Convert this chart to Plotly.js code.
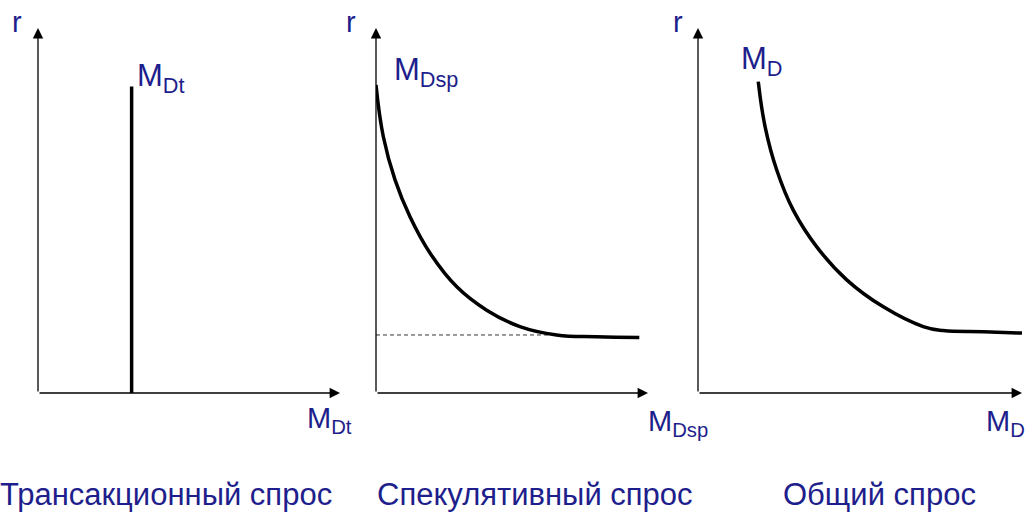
<!DOCTYPE html>
<html>
<head>
<meta charset="utf-8">
<script src="https://cdn.plot.ly/plotly-3.0.1.min.js"></script>
<style>html,body{margin:0;padding:0;background:#fff;}#chart{width:1027px;height:513px;}</style>
</head>
<body>
<div id="chart"></div>
<script>
// Panel titles
const panelTitles = ["Трансакционный спрос", "Спекулятивный спрос", "Общий спрос"];
const curveLabels = ["M<sub>Dt</sub>", "M<sub>Dsp</sub>", "M<sub>D</sub>"];
const axisLabelY = "r";

// Transactional demand: vertical line (independent of r)
const transX = [31, 31];
const transY = [0, 84];

// Speculative demand curve
const specX = [0, 2.7, 7.0, 12.5, 19.9, 29.7, 40.7, 52.9, 66.4, 81.1, 96.8];
const specY = [84.4, 70.2, 58.4, 48.3, 38.3, 29.1, 22.7, 18.2, 15.9, 15.4, 15.2];

// Liquidity trap floor (dashed)
const floorX = [0, 66.4];
const floorY = [15.9, 15.9];

// Total demand curve
const totX = [18.6, 20.7, 24.3, 29.4, 36.6, 45.9, 57.2, 69.5, 75.7, 88.1, 100.2];
const totY = [85.3, 73.0, 61.1, 50.1, 40.1, 31.0, 23.6, 18.2, 17.1, 16.8, 16.4];

const W = 1027, H = 513;
const px = v => v / W;
const py = v => 1 - v / H;
const blue = "#1e1e8c";
const font = "Arial, 'Liberation Sans', sans-serif";

const traces = [
  {x: transX, y: transY, xaxis: "x", yaxis: "y", mode: "lines",
   line: {color: "#000", width: 3.5}, hoverinfo: "skip"},
  {x: floorX, y: floorY, xaxis: "x2", yaxis: "y2", mode: "lines",
   line: {color: "#333", width: 1, dash: "4px,3px"}, hoverinfo: "skip"},
  {x: specX, y: specY, xaxis: "x2", yaxis: "y2", mode: "lines",
   line: {color: "#000", width: 3.5, shape: "spline", smoothing: 1.2}, hoverinfo: "skip"},
  {x: totX, y: totY, xaxis: "x3", yaxis: "y3", mode: "lines",
   line: {color: "#000", width: 3.5, shape: "spline", smoothing: 1.2}, hoverinfo: "skip"}
];

const hidden = {showgrid: false, zeroline: false, showticklabels: false, showline: false, ticks: "", fixedrange: true};
const yDom = [1 - 393 / H, 1 - 28 / H];

const layout = {
  width: W, height: H,
  margin: {l: 0, r: 0, t: 0, b: 0, pad: 0},
  paper_bgcolor: "#fff", plot_bgcolor: "rgba(0,0,0,0)",
  showlegend: false,
  xaxis:  Object.assign({domain: [38 / W, 340 / W], range: [0, 100], anchor: "y"}, hidden),
  yaxis:  Object.assign({domain: yDom, range: [0, 100], anchor: "x"}, hidden),
  xaxis2: Object.assign({domain: [376 / W, 648 / W], range: [0, 100], anchor: "y2"}, hidden),
  yaxis2: Object.assign({domain: yDom, range: [0, 100], anchor: "x2"}, hidden),
  xaxis3: Object.assign({domain: [698 / W, 1022 / W], range: [0, 100], anchor: "y3"}, hidden),
  yaxis3: Object.assign({domain: yDom, range: [0, 100], anchor: "x3"}, hidden),
  annotations: []
};

// Axis arrows
["", "2", "3"].forEach(s => {
  const xr = "x" + s, yr = "y" + s;
  layout.annotations.push({xref: xr, yref: yr, axref: xr, ayref: yr, x: 100, y: 0, ax: 0, ay: 0,
    text: "", showarrow: true, arrowhead: 2, arrowsize: 1.6, arrowwidth: 1.3, arrowcolor: "#000", standoff: 0, startstandoff: 0});
  layout.annotations.push({xref: xr, yref: yr, axref: xr, ayref: yr, x: 0, y: 100, ax: 0, ay: 0,
    text: "", showarrow: true, arrowhead: 2, arrowsize: 1.6, arrowwidth: 1.3, arrowcolor: "#000", standoff: 0, startstandoff: 0});
});

function lab(text, x, y, xanchor, size) {
  layout.annotations.push({xref: "paper", yref: "paper", x: px(x), y: py(y), xanchor: xanchor, yanchor: "middle",
    text: text, showarrow: false, font: {family: font, size: size || 29, color: blue}});
}

// r labels
lab(axisLabelY, 10, 22, "left");
lab(axisLabelY, 344, 22, "left");
lab(axisLabelY, 671, 22, "left");

// curve labels
lab(curveLabels[0], 135, 78, "left", 31);
lab(curveLabels[1], 392, 72, "left", 31);
lab(curveLabels[2], 739, 61, "left", 31);

// x-axis labels
lab(curveLabels[0], 305, 420, "left");
lab(curveLabels[1], 646, 423, "left");
lab(curveLabels[2], 984, 423, "left");

// panel titles
lab(panelTitles[0], 166, 494, "center", 31);
lab(panelTitles[1], 535, 494, "center", 31);
lab(panelTitles[2], 879, 494, "center", 31);

Plotly.newPlot("chart", traces, layout, {staticPlot: true, displayModeBar: false});
</script>
</body>
</html>
